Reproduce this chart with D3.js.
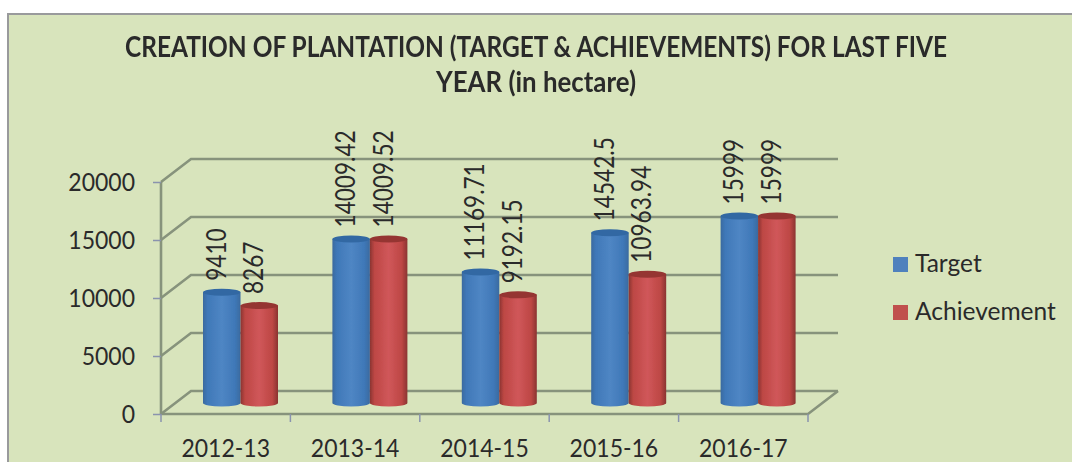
<!DOCTYPE html>
<html><head><meta charset="utf-8">
<script src="https://cdn.jsdelivr.net/npm/d3@7/dist/d3.min.js"></script>
<style>html,body{margin:0;padding:0;background:#fff}svg{display:block}text{font-family:Lato,"Open Sans",sans-serif;fill:#2a2a2a}</style>
</head><body><svg id="c" width="1072" height="462"></svg>
<script>
const categories=["2012-13","2013-14","2014-15","2015-16","2016-17"];
const seriesNames=["Target","Achievement"];
const target=[9410,14009.42,11169.71,14542.5,15999];
const achievement=[8267,14009.52,9192.15,10963.94,15999];
const targetLabels=["9410","14009.42","11169.71","14542.5","15999"];
const achievementLabels=["8267","14009.52","9192.15","10963.94","15999"];
const yTicks=[0,5000,10000,15000,20000];
const titleLines=["CREATION OF PLANTATION (TARGET & ACHIEVEMENTS) FOR LAST FIVE","YEAR (in hectare)"];

const svg=d3.select("#c"), defs=svg.append("defs");
const W=1072,H=462;
const left=161,right=808,y0=414,y20=182,dx=30,dy=-23;
const x=d3.scaleBand().domain(categories).range([left,right]);
const y=d3.scaleLinear().domain([0,20000]).range([y0,y20]);
const barW=37.5;
function condense(sel,f){
  sel.each(function(){
    const l=this.getComputedTextLength();
    d3.select(this).attr("textLength",l*f).attr("lengthAdjust","spacingAndGlyphs");
  });
}
function grad(id,edge,mid,hi){
  const g=defs.append("linearGradient").attr("id",id);
  [[0,edge],[.12,mid],[.5,hi],[.85,mid],[1,edge]].forEach(s=>g.append("stop").attr("offset",s[0]).attr("stop-color",s[1]));
}
grad("gb","#3a6a9f","#3f78b8","#4f86c4");
grad("gr","#8a3431","#bd4744","#d0575a");
defs.append("filter").attr("id","soft").append("feGaussianBlur").attr("stdDeviation",.7);
defs.append("filter").attr("id","softT").append("feGaussianBlur").attr("stdDeviation",.3);

svg.append("rect").attr("x",8).attr("y",14).attr("width",W+20).attr("height",H+20)
  .attr("fill","#d8e4bc").attr("stroke","#999a9c").attr("stroke-width",2);

const tt=svg.append("g").attr("filter","url(#softT)");
tt.selectAll("text").data(titleLines).join("text")
  .attr("x",536).attr("y",(d,i)=>57+i*35).attr("text-anchor","middle")
  .attr("font-size",28).attr("font-weight",700).attr("textLength",(d,i)=>i?200:822).attr("lengthAdjust","spacingAndGlyphs").text(d=>d);

const grid=svg.append("g").attr("filter","url(#soft)").attr("fill","none");
yTicks.forEach(t=>{
  grid.append("path").attr("d",`M${left},${y(t)}L${left+dx},${y(t)+dy}H${right+dx}`).attr("stroke","#87937c").attr("stroke-width",2.6);
});
grid.append("path").attr("d",`M${left},${y0}H${right}L${right+dx},${y0+dy}`).attr("stroke","#87937c").attr("stroke-width",2.6);
grid.append("path").attr("d",`M${left},${y20}V${y0}`).attr("stroke","#87937c").attr("stroke-width",2.6);

const axY=d3.axisLeft(y).tickValues(yTicks).tickSize(8).tickPadding(18).tickFormat(d3.format("d"));
const gy=svg.append("g").attr("transform",`translate(${left},0)`).call(axY);
gy.select(".domain").remove();
gy.selectAll("line").attr("stroke","#8a93ae").attr("stroke-width",1.5);
gy.selectAll("text").attr("font-size",25).call(condense,.92);

const axX=d3.axisBottom(x).tickSize(0).tickPadding(25);
const gx=svg.append("g").attr("transform",`translate(0,${y0})`).call(axX);
gx.select(".domain").remove();
gx.selectAll("text").attr("font-size",25).call(condense,.92);
const bounds=categories.map(c=>x(c)).concat([right]);
svg.append("g").selectAll("line").data(bounds).join("line")
  .attr("x1",d=>d).attr("x2",d=>d).attr("y1",y0).attr("y2",y0+8).attr("stroke","#8a93ae").attr("stroke-width",1.5);

const series=[
 {vals:target,labs:targetLabels,g:"gb",top:"#3168a3",off:0},
 {vals:achievement,labs:achievementLabels,g:"gr",top:"#953532",off:1}];
const baseOff=11, topOff=12.5, originX=42;
const rx=barW/2, ry=3.5;
categories.forEach((c,i)=>{
  series.forEach(s=>{
    const cx=x(c)+originX+s.off*barW+rx, v=s.vals[i];
    const yb=y(0)-baseOff, yt=y(v)-topOff;
    const g=svg.append("g").attr("filter","url(#soft)");
    g.append("path").attr("d",`M${cx-rx},${yt}V${yb}A${rx},${ry} 0 0 0 ${cx+rx},${yb}V${yt}Z`).attr("fill",`url(#${s.g})`);
    g.append("ellipse").attr("cx",cx).attr("cy",yt).attr("rx",rx).attr("ry",ry).attr("fill",s.top);
    const lx=cx-5.5, ly=yt-ry-8;
    svg.append("text").attr("transform",`translate(${lx},${ly}) rotate(-90)`)
      .attr("dy","0.36em").attr("font-size",26).text(s.labs[i]).call(condense,.87);
  });
});

const leg=svg.append("g");
const colors=["#4f81bd","#c0504d"];
seriesNames.forEach((n,i)=>{
  leg.append("rect").attr("x",893).attr("y",257+i*48).attr("width",15).attr("height",15).attr("fill",colors[i]);
  leg.append("text").attr("x",915).attr("y",272+i*48).attr("font-size",25).text(n).call(condense,.98);
});
</script></body></html>
